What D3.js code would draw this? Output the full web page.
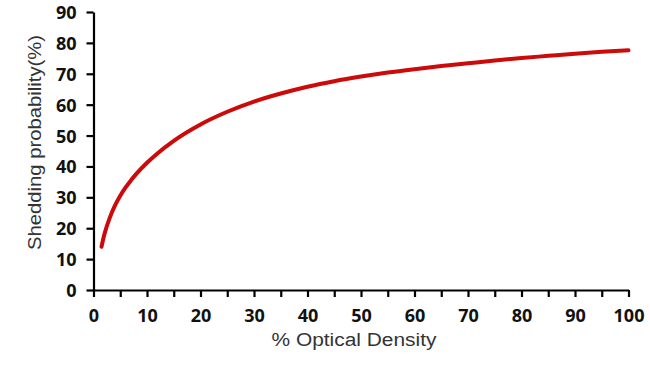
<!DOCTYPE html>
<html>
<head>
<meta charset="utf-8">
<script src="https://cdn.jsdelivr.net/npm/d3@7"></script>
<style>
  html, body { margin: 0; padding: 0; background: #fff; }
  svg { display: block; }
</style>
</head>
<body>
<svg id="chart" width="650" height="366"></svg>
<script>
// ---- data ----
const opticalDensity = [1.5, 2, 3, 4, 5, 6, 7, 8, 10, 12, 15, 20, 25, 30, 35, 40, 45, 50, 55, 60, 65, 70, 75, 80, 85, 90, 95, 100];
const sheddingProb   = [14.0, 17.8, 23.2, 27.3, 30.5, 33.2, 35.5, 37.6, 41.2, 44.3, 48.3, 53.6, 57.7, 61.0, 63.6, 65.8, 67.6, 69.1, 70.4, 71.5, 72.5, 73.4, 74.3, 75.1, 75.8, 76.5, 77.1, 77.6];
const xTickValues = [0, 10, 20, 30, 40, 50, 60, 70, 80, 90, 100];
const xMinorTicks = [0, 5, 10, 15, 20, 25, 30, 35, 40, 45, 50, 55, 60, 65, 70, 75, 80, 85, 90, 95, 100];
const yTickValues = [0, 10, 20, 30, 40, 50, 60, 70, 80, 90];
const xTitle = "% Optical Density";
const yTitle = "Shedding probability(%)";

const svg = d3.select("#chart");
const x = d3.scaleLinear().domain([0, 100]).range([93.5, 628.5]);
const y = d3.scaleLinear().domain([0, 90]).range([290, 12]);

const tickFont = "'Open Sans', 'Liberation Sans', sans-serif";

// x axis: minor ticks every 5
const xAxisG = svg.append("g").attr("transform", `translate(0,${y(0)})`)
  .call(d3.axisBottom(x).tickValues(xMinorTicks).tickSize(7).tickSizeOuter(0).tickFormat(""));
// x labels every 10
const xLabG = svg.append("g").attr("transform", `translate(0,${y(0)})`)
  .call(d3.axisBottom(x).tickValues(xTickValues).tickSize(0).tickPadding(19).tickFormat(d3.format("d")));
xLabG.select(".domain").remove();

// y axis
const yAxisG = svg.append("g").attr("transform", `translate(${x(0)},0)`)
  .call(d3.axisLeft(y).tickValues(yTickValues).tickSize(7).tickSizeOuter(0).tickPadding(10).tickFormat(d3.format("d")));

[xAxisG, yAxisG].forEach(g => {
  g.select(".domain").attr("stroke", "#000").attr("stroke-width", 2.2);
  g.selectAll(".tick line").attr("stroke", "#000").attr("stroke-width", 2.2);
});
[xLabG, yAxisG].forEach(g => {
  g.selectAll(".tick text")
    .attr("font-family", tickFont)
    .attr("font-weight", "bold")
    .attr("font-size", "18px")
    .attr("fill", "#111");
});
yAxisG.selectAll(".tick text").attr("dy", "0.36em");

// curve
const line = d3.line()
  .x((d, i) => x(opticalDensity[i]))
  .y(d => y(d))
  .curve(d3.curveMonotoneX);

svg.append("path")
  .datum(sheddingProb)
  .attr("d", line)
  .attr("fill", "none")
  .attr("stroke", "#cc0a0a")
  .attr("stroke-width", 4)
  .attr("stroke-linecap", "round");

// axis titles
svg.append("text")
  .attr("x", 354).attr("y", 346)
  .attr("text-anchor", "middle")
  .attr("font-family", "'Liberation Sans', Arial, sans-serif")
  .attr("font-size", "18px")
  .attr("fill", "#333")
  .attr("textLength", 165)
  .attr("lengthAdjust", "spacingAndGlyphs")
  .text(xTitle);

svg.append("text")
  .attr("transform", "translate(41,142.5) rotate(-90)")
  .attr("text-anchor", "middle")
  .attr("font-family", "'Liberation Sans', Arial, sans-serif")
  .attr("font-size", "19px")
  .attr("fill", "#333")
  .attr("textLength", 215)
  .attr("lengthAdjust", "spacingAndGlyphs")
  .text(yTitle);
</script>
</body>
</html>
